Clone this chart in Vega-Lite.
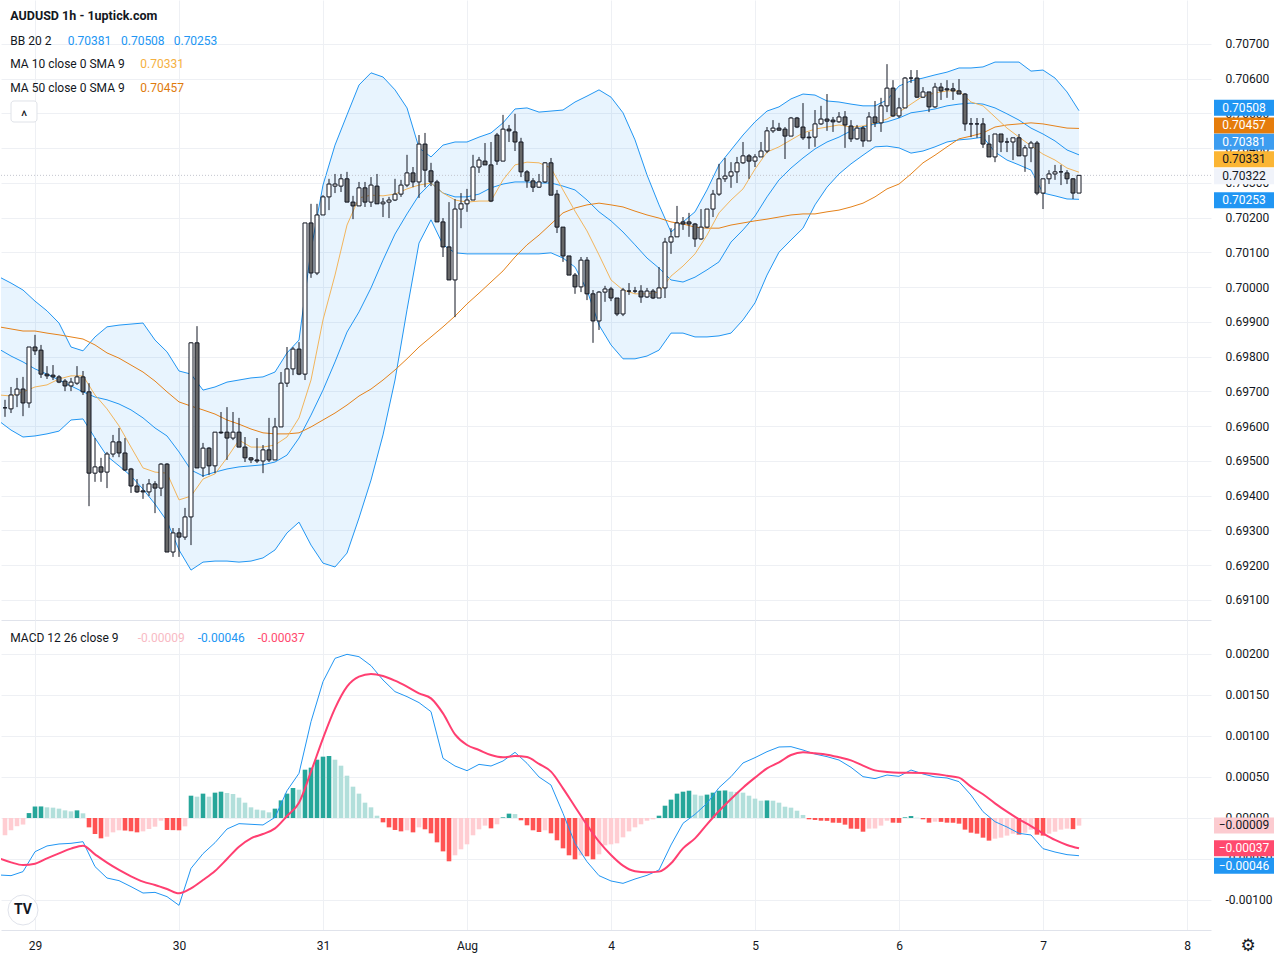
{
  "$schema": "https://vega.github.io/schema/vega-lite/v6.json",
  "padding": 0,
  "background": "#ffffff",
  "spacing": 0,
  "config": {
    "view": {"stroke": null},
    "font": "Roboto",
    "axis": {"labelFont": "Roboto", "labelFontSize": 12, "labelColor": "#131722", "gridColor": "#eef0f4", "ticks": false, "domain": false, "title": null, "labelOverlap": false},
    "scale": {"continuousPadding": 0}
  },
  "datasets": {
    "candles": [
      {"t":-5,"o":0.69653,"h":0.69676,"l":0.69627,"c":0.69653},
      {"t":-4,"o":0.69650,"h":0.69713,"l":0.69638,"c":0.69690},
      {"t":-3,"o":0.69690,"h":0.69739,"l":0.69655,"c":0.69707},
      {"t":-2,"o":0.69707,"h":0.69742,"l":0.69629,"c":0.69667},
      {"t":-1,"o":0.69667,"h":0.69828,"l":0.69653,"c":0.69828},
      {"t":0,"o":0.69828,"h":0.69863,"l":0.69805,"c":0.69817},
      {"t":1,"o":0.69819,"h":0.69834,"l":0.69739,"c":0.69750},
      {"t":2,"o":0.69750,"h":0.69773,"l":0.69736,"c":0.69745},
      {"t":3,"o":0.69747,"h":0.69776,"l":0.69733,"c":0.69742},
      {"t":4,"o":0.69742,"h":0.69747,"l":0.69724,"c":0.69727},
      {"t":5,"o":0.69730,"h":0.69736,"l":0.69701,"c":0.69716},
      {"t":6,"o":0.69716,"h":0.69739,"l":0.69701,"c":0.69727},
      {"t":7,"o":0.69724,"h":0.69773,"l":0.69719,"c":0.69742},
      {"t":8,"o":0.69742,"h":0.69759,"l":0.69690,"c":0.69699},
      {"t":9,"o":0.69699,"h":0.69724,"l":0.69370,"c":0.69465},
      {"t":10,"o":0.69465,"h":0.69566,"l":0.69440,"c":0.69483},
      {"t":11,"o":0.69483,"h":0.69509,"l":0.69440,"c":0.69468},
      {"t":12,"o":0.69468,"h":0.69526,"l":0.69422,"c":0.69520},
      {"t":13,"o":0.69520,"h":0.69575,"l":0.69511,"c":0.69555},
      {"t":14,"o":0.69555,"h":0.69595,"l":0.69511,"c":0.69523},
      {"t":15,"o":0.69523,"h":0.69566,"l":0.69471,"c":0.69474},
      {"t":16,"o":0.69477,"h":0.69480,"l":0.69408,"c":0.69428},
      {"t":17,"o":0.69428,"h":0.69448,"l":0.69408,"c":0.69411},
      {"t":18,"o":0.69414,"h":0.69434,"l":0.69391,"c":0.69411},
      {"t":19,"o":0.69411,"h":0.69448,"l":0.69399,"c":0.69434},
      {"t":20,"o":0.69434,"h":0.69442,"l":0.69350,"c":0.69422},
      {"t":21,"o":0.69422,"h":0.69494,"l":0.69399,"c":0.69491},
      {"t":22,"o":0.69491,"h":0.69494,"l":0.69238,"c":0.69238},
      {"t":23,"o":0.69238,"h":0.69307,"l":0.69224,"c":0.69293},
      {"t":24,"o":0.69293,"h":0.69307,"l":0.69224,"c":0.69281},
      {"t":25,"o":0.69281,"h":0.69365,"l":0.69273,"c":0.69339},
      {"t":26,"o":0.69339,"h":0.69842,"l":0.69258,"c":0.69840},
      {"t":27,"o":0.69840,"h":0.69888,"l":0.69480,"c":0.69480},
      {"t":28,"o":0.69480,"h":0.69552,"l":0.69454,"c":0.69537},
      {"t":29,"o":0.69537,"h":0.69540,"l":0.69460,"c":0.69486},
      {"t":30,"o":0.69486,"h":0.69583,"l":0.69465,"c":0.69583},
      {"t":31,"o":0.69583,"h":0.69641,"l":0.69578,"c":0.69581},
      {"t":32,"o":0.69583,"h":0.69655,"l":0.69503,"c":0.69566},
      {"t":33,"o":0.69566,"h":0.69641,"l":0.69560,"c":0.69583},
      {"t":34,"o":0.69583,"h":0.69624,"l":0.69540,"c":0.69540},
      {"t":35,"o":0.69540,"h":0.69569,"l":0.69497,"c":0.69509},
      {"t":36,"o":0.69509,"h":0.69511,"l":0.69494,"c":0.69503},
      {"t":37,"o":0.69503,"h":0.69566,"l":0.69494,"c":0.69500},
      {"t":38,"o":0.69500,"h":0.69546,"l":0.69465,"c":0.69532},
      {"t":39,"o":0.69532,"h":0.69624,"l":0.69497,"c":0.69503},
      {"t":40,"o":0.69503,"h":0.69624,"l":0.69503,"c":0.69598},
      {"t":41,"o":0.69598,"h":0.69756,"l":0.69598,"c":0.69724},
      {"t":42,"o":0.69724,"h":0.69828,"l":0.69713,"c":0.69765},
      {"t":43,"o":0.69765,"h":0.69828,"l":0.69747,"c":0.69822},
      {"t":44,"o":0.69822,"h":0.69842,"l":0.69747,"c":0.69750},
      {"t":45,"o":0.69750,"h":0.70185,"l":0.69733,"c":0.70185},
      {"t":46,"o":0.70185,"h":0.70240,"l":0.70027,"c":0.70041},
      {"t":47,"o":0.70041,"h":0.70240,"l":0.70035,"c":0.70208},
      {"t":48,"o":0.70208,"h":0.70265,"l":0.70208,"c":0.70260},
      {"t":49,"o":0.70260,"h":0.70312,"l":0.70222,"c":0.70297},
      {"t":50,"o":0.70291,"h":0.70326,"l":0.70271,"c":0.70297},
      {"t":51,"o":0.70291,"h":0.70326,"l":0.70274,"c":0.70312},
      {"t":52,"o":0.70312,"h":0.70332,"l":0.70245,"c":0.70245},
      {"t":53,"o":0.70245,"h":0.70263,"l":0.70196,"c":0.70234},
      {"t":54,"o":0.70234,"h":0.70303,"l":0.70234,"c":0.70286},
      {"t":55,"o":0.70286,"h":0.70303,"l":0.70231,"c":0.70245},
      {"t":56,"o":0.70245,"h":0.70317,"l":0.70231,"c":0.70294},
      {"t":57,"o":0.70291,"h":0.70326,"l":0.70240,"c":0.70240},
      {"t":58,"o":0.70240,"h":0.70257,"l":0.70202,"c":0.70245},
      {"t":59,"o":0.70245,"h":0.70260,"l":0.70199,"c":0.70251},
      {"t":60,"o":0.70251,"h":0.70312,"l":0.70248,"c":0.70268},
      {"t":61,"o":0.70268,"h":0.70309,"l":0.70260,"c":0.70294},
      {"t":62,"o":0.70294,"h":0.70381,"l":0.70288,"c":0.70329},
      {"t":63,"o":0.70329,"h":0.70346,"l":0.70288,"c":0.70303},
      {"t":64,"o":0.70303,"h":0.70438,"l":0.70257,"c":0.70412},
      {"t":65,"o":0.70412,"h":0.70444,"l":0.70288,"c":0.70337},
      {"t":66,"o":0.70335,"h":0.70358,"l":0.70291,"c":0.70303},
      {"t":67,"o":0.70303,"h":0.70309,"l":0.70188,"c":0.70188},
      {"t":68,"o":0.70188,"h":0.70199,"l":0.70087,"c":0.70116},
      {"t":69,"o":0.70116,"h":0.70245,"l":0.70021,"c":0.70021},
      {"t":70,"o":0.70021,"h":0.70254,"l":0.69914,"c":0.70225},
      {"t":71,"o":0.70225,"h":0.70271,"l":0.70170,"c":0.70240},
      {"t":72,"o":0.70240,"h":0.70283,"l":0.70217,"c":0.70251},
      {"t":73,"o":0.70251,"h":0.70381,"l":0.70251,"c":0.70346},
      {"t":74,"o":0.70346,"h":0.70375,"l":0.70329,"c":0.70366},
      {"t":75,"o":0.70363,"h":0.70415,"l":0.70352,"c":0.70352},
      {"t":76,"o":0.70352,"h":0.70418,"l":0.70245,"c":0.70248},
      {"t":77,"o":0.70438,"h":0.70444,"l":0.70352,"c":0.70363},
      {"t":78,"o":0.70363,"h":0.70496,"l":0.70363,"c":0.70455},
      {"t":79,"o":0.70455,"h":0.70467,"l":0.70418,"c":0.70450},
      {"t":80,"o":0.70447,"h":0.70499,"l":0.70392,"c":0.70418},
      {"t":81,"o":0.70418,"h":0.70430,"l":0.70317,"c":0.70332},
      {"t":82,"o":0.70332,"h":0.70337,"l":0.70286,"c":0.70306},
      {"t":83,"o":0.70306,"h":0.70314,"l":0.70274,"c":0.70288},
      {"t":84,"o":0.70288,"h":0.70326,"l":0.70286,"c":0.70303},
      {"t":85,"o":0.70303,"h":0.70360,"l":0.70300,"c":0.70358},
      {"t":86,"o":0.70358,"h":0.70372,"l":0.70265,"c":0.70265},
      {"t":87,"o":0.70268,"h":0.70280,"l":0.70156,"c":0.70173},
      {"t":88,"o":0.70173,"h":0.70173,"l":0.70073,"c":0.70090},
      {"t":89,"o":0.70090,"h":0.70090,"l":0.70035,"c":0.70035},
      {"t":90,"o":0.70035,"h":0.70041,"l":0.69981,"c":0.70001},
      {"t":91,"o":0.70001,"h":0.70087,"l":0.69986,"c":0.70078},
      {"t":92,"o":0.70078,"h":0.70087,"l":0.69963,"c":0.69981},
      {"t":93,"o":0.69981,"h":0.69992,"l":0.69840,"c":0.69903},
      {"t":94,"o":0.69903,"h":0.69989,"l":0.69877,"c":0.69986},
      {"t":95,"o":0.69986,"h":0.70004,"l":0.69958,"c":0.69995},
      {"t":96,"o":0.69995,"h":0.70001,"l":0.69960,"c":0.69969},
      {"t":97,"o":0.69969,"h":0.69969,"l":0.69917,"c":0.69923},
      {"t":98,"o":0.69923,"h":0.69998,"l":0.69917,"c":0.69992},
      {"t":99,"o":0.69989,"h":0.70012,"l":0.69978,"c":0.69989},
      {"t":100,"o":0.69989,"h":0.70001,"l":0.69983,"c":0.69989},
      {"t":101,"o":0.69989,"h":0.70006,"l":0.69955,"c":0.69972},
      {"t":102,"o":0.69972,"h":0.69998,"l":0.69969,"c":0.69989},
      {"t":103,"o":0.69989,"h":0.69995,"l":0.69966,"c":0.69969},
      {"t":104,"o":0.69969,"h":0.70058,"l":0.69969,"c":0.69998},
      {"t":105,"o":0.69998,"h":0.70142,"l":0.69969,"c":0.70130},
      {"t":106,"o":0.70130,"h":0.70170,"l":0.70096,"c":0.70145},
      {"t":107,"o":0.70145,"h":0.70234,"l":0.70145,"c":0.70185},
      {"t":108,"o":0.70188,"h":0.70202,"l":0.70165,"c":0.70182},
      {"t":109,"o":0.70188,"h":0.70214,"l":0.70145,"c":0.70182},
      {"t":110,"o":0.70182,"h":0.70185,"l":0.70116,"c":0.70139},
      {"t":111,"o":0.70139,"h":0.70225,"l":0.70136,"c":0.70173},
      {"t":112,"o":0.70173,"h":0.70225,"l":0.70170,"c":0.70225},
      {"t":113,"o":0.70225,"h":0.70280,"l":0.70202,"c":0.70268},
      {"t":114,"o":0.70268,"h":0.70355,"l":0.70263,"c":0.70312},
      {"t":115,"o":0.70312,"h":0.70372,"l":0.70303,"c":0.70320},
      {"t":116,"o":0.70320,"h":0.70360,"l":0.70286,"c":0.70332},
      {"t":117,"o":0.70332,"h":0.70375,"l":0.70300,"c":0.70358},
      {"t":118,"o":0.70358,"h":0.70418,"l":0.70355,"c":0.70378},
      {"t":119,"o":0.70378,"h":0.70383,"l":0.70312,"c":0.70363},
      {"t":120,"o":0.70363,"h":0.70383,"l":0.70346,"c":0.70375},
      {"t":121,"o":0.70375,"h":0.70418,"l":0.70375,"c":0.70392},
      {"t":122,"o":0.70392,"h":0.70461,"l":0.70386,"c":0.70450},
      {"t":123,"o":0.70450,"h":0.70481,"l":0.70444,"c":0.70458},
      {"t":124,"o":0.70458,"h":0.70473,"l":0.70450,"c":0.70452},
      {"t":125,"o":0.70455,"h":0.70461,"l":0.70369,"c":0.70435},
      {"t":126,"o":0.70435,"h":0.70490,"l":0.70435,"c":0.70487},
      {"t":127,"o":0.70487,"h":0.70490,"l":0.70458,"c":0.70461},
      {"t":128,"o":0.70461,"h":0.70530,"l":0.70424,"c":0.70430},
      {"t":129,"o":0.70432,"h":0.70447,"l":0.70398,"c":0.70430},
      {"t":130,"o":0.70432,"h":0.70510,"l":0.70404,"c":0.70470},
      {"t":131,"o":0.70470,"h":0.70522,"l":0.70467,"c":0.70484},
      {"t":132,"o":0.70484,"h":0.70556,"l":0.70450,"c":0.70478},
      {"t":133,"o":0.70481,"h":0.70490,"l":0.70447,"c":0.70476},
      {"t":134,"o":0.70476,"h":0.70504,"l":0.70473,"c":0.70490},
      {"t":135,"o":0.70490,"h":0.70507,"l":0.70401,"c":0.70467},
      {"t":136,"o":0.70464,"h":0.70481,"l":0.70418,"c":0.70427},
      {"t":137,"o":0.70427,"h":0.70467,"l":0.70424,"c":0.70458},
      {"t":138,"o":0.70458,"h":0.70464,"l":0.70404,"c":0.70421},
      {"t":139,"o":0.70421,"h":0.70504,"l":0.70421,"c":0.70490},
      {"t":140,"o":0.70490,"h":0.70536,"l":0.70461,"c":0.70473},
      {"t":141,"o":0.70473,"h":0.70545,"l":0.70447,"c":0.70522},
      {"t":142,"o":0.70522,"h":0.70642,"l":0.70504,"c":0.70573},
      {"t":143,"o":0.70573,"h":0.70596,"l":0.70490,"c":0.70493},
      {"t":144,"o":0.70493,"h":0.70545,"l":0.70487,"c":0.70516},
      {"t":145,"o":0.70516,"h":0.70605,"l":0.70516,"c":0.70602},
      {"t":146,"o":0.70602,"h":0.70625,"l":0.70588,"c":0.70602},
      {"t":147,"o":0.70602,"h":0.70625,"l":0.70545,"c":0.70547},
      {"t":148,"o":0.70547,"h":0.70576,"l":0.70545,"c":0.70562},
      {"t":149,"o":0.70562,"h":0.70562,"l":0.70504,"c":0.70519},
      {"t":150,"o":0.70519,"h":0.70588,"l":0.70516,"c":0.70576},
      {"t":151,"o":0.70576,"h":0.70588,"l":0.70539,"c":0.70565},
      {"t":152,"o":0.70571,"h":0.70596,"l":0.70545,"c":0.70568},
      {"t":153,"o":0.70571,"h":0.70588,"l":0.70539,"c":0.70565},
      {"t":154,"o":0.70565,"h":0.70599,"l":0.70556,"c":0.70556},
      {"t":155,"o":0.70556,"h":0.70559,"l":0.70450,"c":0.70470},
      {"t":156,"o":0.70470,"h":0.70487,"l":0.70432,"c":0.70470},
      {"t":157,"o":0.70470,"h":0.70487,"l":0.70430,"c":0.70470},
      {"t":158,"o":0.70470,"h":0.70487,"l":0.70401,"c":0.70412},
      {"t":159,"o":0.70412,"h":0.70438,"l":0.70375,"c":0.70375},
      {"t":160,"o":0.70375,"h":0.70441,"l":0.70360,"c":0.70441},
      {"t":161,"o":0.70441,"h":0.70441,"l":0.70389,"c":0.70418},
      {"t":162,"o":0.70418,"h":0.70430,"l":0.70389,"c":0.70418},
      {"t":163,"o":0.70418,"h":0.70430,"l":0.70366,"c":0.70430},
      {"t":164,"o":0.70430,"h":0.70441,"l":0.70378,"c":0.70378},
      {"t":165,"o":0.70378,"h":0.70409,"l":0.70332,"c":0.70401},
      {"t":166,"o":0.70401,"h":0.70421,"l":0.70360,"c":0.70415},
      {"t":167,"o":0.70415,"h":0.70421,"l":0.70265,"c":0.70271},
      {"t":168,"o":0.70271,"h":0.70312,"l":0.70225,"c":0.70312},
      {"t":169,"o":0.70312,"h":0.70337,"l":0.70297,"c":0.70326},
      {"t":170,"o":0.70326,"h":0.70352,"l":0.70309,"c":0.70332},
      {"t":171,"o":0.70332,"h":0.70352,"l":0.70294,"c":0.70332},
      {"t":172,"o":0.70329,"h":0.70337,"l":0.70297,"c":0.70312},
      {"t":173,"o":0.70312,"h":0.70314,"l":0.70254,"c":0.70271},
      {"t":174,"o":0.70271,"h":0.70317,"l":0.70271,"c":0.70322}
    ],
    "bands": [
      {"t":-6,"up":0.70030,"mid":0.69822,"lo":0.69615,"ma10":0.69690,"ma50":0.69886},
      {"t":-4,"up":0.70012,"mid":0.69802,"lo":0.69589,"ma10":0.69687,"ma50":0.69880},
      {"t":-2,"up":0.69992,"mid":0.69785,"lo":0.69569,"ma10":0.69699,"ma50":0.69874},
      {"t":0,"up":0.69960,"mid":0.69765,"lo":0.69572,"ma10":0.69713,"ma50":0.69874},
      {"t":2,"up":0.69932,"mid":0.69750,"lo":0.69578,"ma10":0.69719,"ma50":0.69868},
      {"t":4,"up":0.69897,"mid":0.69733,"lo":0.69586,"ma10":0.69736,"ma50":0.69863},
      {"t":6,"up":0.69828,"mid":0.69716,"lo":0.69618,"ma10":0.69745,"ma50":0.69857},
      {"t":8,"up":0.69817,"mid":0.69699,"lo":0.69621,"ma10":0.69745,"ma50":0.69851},
      {"t":10,"up":0.69857,"mid":0.69684,"lo":0.69566,"ma10":0.69690,"ma50":0.69834},
      {"t":12,"up":0.69886,"mid":0.69676,"lo":0.69514,"ma10":0.69650,"ma50":0.69811},
      {"t":14,"up":0.69891,"mid":0.69664,"lo":0.69486,"ma10":0.69601,"ma50":0.69796},
      {"t":16,"up":0.69894,"mid":0.69647,"lo":0.69457,"ma10":0.69540,"ma50":0.69776},
      {"t":18,"up":0.69897,"mid":0.69624,"lo":0.69419,"ma10":0.69480,"ma50":0.69756},
      {"t":20,"up":0.69848,"mid":0.69595,"lo":0.69376,"ma10":0.69468,"ma50":0.69730},
      {"t":22,"up":0.69814,"mid":0.69572,"lo":0.69327,"ma10":0.69465,"ma50":0.69699},
      {"t":24,"up":0.69759,"mid":0.69526,"lo":0.69244,"ma10":0.69388,"ma50":0.69670},
      {"t":26,"up":0.69750,"mid":0.69474,"lo":0.69186,"ma10":0.69399,"ma50":0.69658},
      {"t":28,"up":0.69704,"mid":0.69457,"lo":0.69209,"ma10":0.69448,"ma50":0.69647},
      {"t":30,"up":0.69713,"mid":0.69468,"lo":0.69212,"ma10":0.69463,"ma50":0.69635},
      {"t":32,"up":0.69727,"mid":0.69477,"lo":0.69212,"ma10":0.69509,"ma50":0.69618},
      {"t":34,"up":0.69733,"mid":0.69483,"lo":0.69209,"ma10":0.69560,"ma50":0.69606},
      {"t":36,"up":0.69739,"mid":0.69486,"lo":0.69212,"ma10":0.69540,"ma50":0.69592},
      {"t":38,"up":0.69742,"mid":0.69489,"lo":0.69221,"ma10":0.69540,"ma50":0.69581},
      {"t":40,"up":0.69756,"mid":0.69497,"lo":0.69244,"ma10":0.69546,"ma50":0.69578},
      {"t":42,"up":0.69811,"mid":0.69517,"lo":0.69293,"ma10":0.69569,"ma50":0.69578},
      {"t":44,"up":0.69848,"mid":0.69566,"lo":0.69324,"ma10":0.69624,"ma50":0.69581},
      {"t":46,"up":0.70107,"mid":0.69632,"lo":0.69258,"ma10":0.69733,"ma50":0.69598},
      {"t":48,"up":0.70294,"mid":0.69704,"lo":0.69206,"ma10":0.69906,"ma50":0.69618},
      {"t":50,"up":0.70409,"mid":0.69785,"lo":0.69195,"ma10":0.70035,"ma50":0.69638},
      {"t":52,"up":0.70496,"mid":0.69871,"lo":0.69235,"ma10":0.70179,"ma50":0.69661},
      {"t":54,"up":0.70582,"mid":0.69929,"lo":0.69336,"ma10":0.70257,"ma50":0.69687},
      {"t":56,"up":0.70617,"mid":0.69998,"lo":0.69445,"ma10":0.70265,"ma50":0.69707},
      {"t":58,"up":0.70605,"mid":0.70078,"lo":0.69575,"ma10":0.70263,"ma50":0.69733},
      {"t":60,"up":0.70568,"mid":0.70153,"lo":0.69733,"ma10":0.70268,"ma50":0.69762},
      {"t":62,"up":0.70516,"mid":0.70211,"lo":0.69935,"ma10":0.70283,"ma50":0.69794},
      {"t":64,"up":0.70401,"mid":0.70265,"lo":0.70127,"ma10":0.70294,"ma50":0.69828},
      {"t":66,"up":0.70375,"mid":0.70300,"lo":0.70194,"ma10":0.70300,"ma50":0.69857},
      {"t":68,"up":0.70409,"mid":0.70271,"lo":0.70122,"ma10":0.70271,"ma50":0.69886},
      {"t":70,"up":0.70418,"mid":0.70260,"lo":0.70099,"ma10":0.70251,"ma50":0.69917},
      {"t":72,"up":0.70418,"mid":0.70260,"lo":0.70096,"ma10":0.70245,"ma50":0.69952},
      {"t":74,"up":0.70432,"mid":0.70268,"lo":0.70096,"ma10":0.70248,"ma50":0.69983},
      {"t":76,"up":0.70444,"mid":0.70286,"lo":0.70096,"ma10":0.70248,"ma50":0.70015},
      {"t":78,"up":0.70473,"mid":0.70297,"lo":0.70096,"ma10":0.70309,"ma50":0.70047},
      {"t":80,"up":0.70513,"mid":0.70303,"lo":0.70096,"ma10":0.70352,"ma50":0.70087},
      {"t":82,"up":0.70516,"mid":0.70303,"lo":0.70096,"ma10":0.70360,"ma50":0.70122},
      {"t":84,"up":0.70504,"mid":0.70300,"lo":0.70096,"ma10":0.70358,"ma50":0.70150},
      {"t":86,"up":0.70507,"mid":0.70300,"lo":0.70099,"ma10":0.70343,"ma50":0.70182},
      {"t":88,"up":0.70510,"mid":0.70291,"lo":0.70084,"ma10":0.70280,"ma50":0.70214},
      {"t":90,"up":0.70533,"mid":0.70280,"lo":0.70058,"ma10":0.70219,"ma50":0.70228},
      {"t":92,"up":0.70550,"mid":0.70251,"lo":0.69992,"ma10":0.70162,"ma50":0.70237},
      {"t":94,"up":0.70568,"mid":0.70217,"lo":0.69891,"ma10":0.70093,"ma50":0.70242},
      {"t":96,"up":0.70547,"mid":0.70191,"lo":0.69834,"ma10":0.70021,"ma50":0.70237},
      {"t":98,"up":0.70502,"mid":0.70159,"lo":0.69794,"ma10":0.69992,"ma50":0.70231},
      {"t":100,"up":0.70424,"mid":0.70122,"lo":0.69794,"ma10":0.69981,"ma50":0.70219},
      {"t":102,"up":0.70323,"mid":0.70084,"lo":0.69802,"ma10":0.69981,"ma50":0.70208},
      {"t":104,"up":0.70237,"mid":0.70055,"lo":0.69819,"ma10":0.69986,"ma50":0.70199},
      {"t":106,"up":0.70159,"mid":0.70021,"lo":0.69868,"ma10":0.70032,"ma50":0.70188},
      {"t":108,"up":0.70188,"mid":0.70015,"lo":0.69868,"ma10":0.70061,"ma50":0.70182},
      {"t":110,"up":0.70217,"mid":0.70029,"lo":0.69857,"ma10":0.70096,"ma50":0.70173},
      {"t":112,"up":0.70280,"mid":0.70050,"lo":0.69857,"ma10":0.70150,"ma50":0.70170},
      {"t":114,"up":0.70352,"mid":0.70073,"lo":0.69860,"ma10":0.70214,"ma50":0.70170},
      {"t":116,"up":0.70395,"mid":0.70130,"lo":0.69868,"ma10":0.70251,"ma50":0.70179},
      {"t":118,"up":0.70438,"mid":0.70165,"lo":0.69906,"ma10":0.70283,"ma50":0.70185},
      {"t":120,"up":0.70476,"mid":0.70205,"lo":0.69955,"ma10":0.70340,"ma50":0.70191},
      {"t":122,"up":0.70507,"mid":0.70260,"lo":0.70035,"ma10":0.70389,"ma50":0.70196},
      {"t":124,"up":0.70519,"mid":0.70309,"lo":0.70101,"ma10":0.70404,"ma50":0.70202},
      {"t":126,"up":0.70542,"mid":0.70343,"lo":0.70136,"ma10":0.70424,"ma50":0.70208},
      {"t":128,"up":0.70556,"mid":0.70372,"lo":0.70170,"ma10":0.70444,"ma50":0.70211},
      {"t":130,"up":0.70553,"mid":0.70398,"lo":0.70237,"ma10":0.70455,"ma50":0.70211},
      {"t":132,"up":0.70536,"mid":0.70418,"lo":0.70288,"ma10":0.70461,"ma50":0.70217},
      {"t":134,"up":0.70533,"mid":0.70432,"lo":0.70326,"ma10":0.70467,"ma50":0.70222},
      {"t":136,"up":0.70527,"mid":0.70450,"lo":0.70355,"ma10":0.70461,"ma50":0.70231},
      {"t":138,"up":0.70522,"mid":0.70461,"lo":0.70380,"ma10":0.70464,"ma50":0.70242},
      {"t":140,"up":0.70522,"mid":0.70470,"lo":0.70404,"ma10":0.70473,"ma50":0.70260},
      {"t":142,"up":0.70539,"mid":0.70476,"lo":0.70406,"ma10":0.70484,"ma50":0.70283},
      {"t":144,"up":0.70579,"mid":0.70487,"lo":0.70401,"ma10":0.70504,"ma50":0.70297},
      {"t":146,"up":0.70594,"mid":0.70502,"lo":0.70386,"ma10":0.70527,"ma50":0.70326},
      {"t":148,"up":0.70602,"mid":0.70507,"lo":0.70392,"ma10":0.70550,"ma50":0.70358},
      {"t":150,"up":0.70611,"mid":0.70513,"lo":0.70404,"ma10":0.70559,"ma50":0.70380},
      {"t":152,"up":0.70619,"mid":0.70522,"lo":0.70418,"ma10":0.70565,"ma50":0.70404},
      {"t":154,"up":0.70631,"mid":0.70527,"lo":0.70424,"ma10":0.70565,"ma50":0.70427},
      {"t":156,"up":0.70631,"mid":0.70530,"lo":0.70427,"ma10":0.70533,"ma50":0.70435},
      {"t":158,"up":0.70634,"mid":0.70527,"lo":0.70432,"ma10":0.70522,"ma50":0.70444},
      {"t":160,"up":0.70648,"mid":0.70516,"lo":0.70389,"ma10":0.70490,"ma50":0.70461},
      {"t":162,"up":0.70648,"mid":0.70499,"lo":0.70366,"ma10":0.70458,"ma50":0.70467},
      {"t":164,"up":0.70648,"mid":0.70481,"lo":0.70352,"ma10":0.70432,"ma50":0.70470},
      {"t":166,"up":0.70622,"mid":0.70458,"lo":0.70337,"ma10":0.70407,"ma50":0.70473},
      {"t":168,"up":0.70625,"mid":0.70441,"lo":0.70271,"ma10":0.70383,"ma50":0.70470},
      {"t":170,"up":0.70602,"mid":0.70421,"lo":0.70263,"ma10":0.70366,"ma50":0.70464},
      {"t":172,"up":0.70562,"mid":0.70395,"lo":0.70254,"ma10":0.70343,"ma50":0.70458},
      {"t":174,"up":0.70508,"mid":0.70381,"lo":0.70253,"ma10":0.70331,"ma50":0.70457}
    ],
    "macd": [
      {"t":-6,"m":-0.000695,"s":-0.000492},{"t":-4,"m":-0.000703,"s":-0.000541},{"t":-2,"m":-0.000654,"s":-0.000573},
      {"t":0,"m":-0.000411,"s":-0.000557},{"t":2,"m":-0.000341,"s":-0.000492},{"t":4,"m":-0.000317,"s":-0.000431},
      {"t":6,"m":-0.000309,"s":-0.000374},{"t":8,"m":-0.000289,"s":-0.000337},{"t":10,"m":-0.000593,"s":-0.000443},
      {"t":12,"m":-0.000732,"s":-0.000545},{"t":14,"m":-0.000764,"s":-0.000634},{"t":16,"m":-0.000837,"s":-0.000711},
      {"t":18,"m":-0.000915,"s":-0.000776},{"t":20,"m":-0.000907,"s":-0.000817},{"t":22,"m":-0.000959,"s":-0.000866},
      {"t":24,"m":-0.001065,"s":-0.000919},{"t":26,"m":-0.000614,"s":-0.000858},{"t":28,"m":-0.000435,"s":-0.000756},
      {"t":30,"m":-0.000301,"s":-0.000646},{"t":32,"m":-0.000134,"s":-0.000500},{"t":34,"m":-0.000069,"s":-0.000350},
      {"t":36,"m":-0.000077,"s":-0.000248},{"t":38,"m":-0.000085,"s":-0.000195},{"t":40,"m":0.000008,"s":-0.000126},
      {"t":42,"m":0.000333,"s":0.000024},{"t":44,"m":0.000545,"s":0.000187},{"t":46,"m":0.001175,"s":0.000565},
      {"t":48,"m":0.001663,"s":0.000972},{"t":50,"m":0.001947,"s":0.001337},{"t":52,"m":0.001996,"s":0.001602},
      {"t":54,"m":0.001967,"s":0.001724},{"t":56,"m":0.001858,"s":0.001756},{"t":58,"m":0.001683,"s":0.001732},
      {"t":60,"m":0.001541,"s":0.001675},{"t":62,"m":0.001480,"s":0.001602},{"t":64,"m":0.001407,"s":0.001520},
      {"t":66,"m":0.001297,"s":0.001459},{"t":68,"m":0.000728,"s":0.001276},{"t":70,"m":0.000634,"s":0.001020},
      {"t":72,"m":0.000577,"s":0.000890},{"t":74,"m":0.000654,"s":0.000829},{"t":76,"m":0.000634,"s":0.000768},
      {"t":78,"m":0.000695,"s":0.000740},{"t":80,"m":0.000801,"s":0.000756},{"t":82,"m":0.000667,"s":0.000744},
      {"t":84,"m":0.000500,"s":0.000659},{"t":86,"m":0.000402,"s":0.000565},{"t":88,"m":0.000057,"s":0.000362},
      {"t":90,"m":-0.000309,"s":0.000138},{"t":92,"m":-0.000533,"s":-0.000085},{"t":94,"m":-0.000703,"s":-0.000289},
      {"t":96,"m":-0.000768,"s":-0.000451},{"t":98,"m":-0.000797,"s":-0.000581},{"t":100,"m":-0.000744,"s":-0.000650},
      {"t":102,"m":-0.000699,"s":-0.000663},{"t":104,"m":-0.000634,"s":-0.000654},{"t":106,"m":-0.000329,"s":-0.000553},
      {"t":108,"m":-0.000065,"s":-0.000370},{"t":110,"m":0.000045,"s":-0.000248},{"t":112,"m":0.000179,"s":-0.000077},
      {"t":114,"m":0.000370,"s":0.000085},{"t":116,"m":0.000504,"s":0.000232},{"t":118,"m":0.000671,"s":0.000370},
      {"t":120,"m":0.000736,"s":0.000492},{"t":122,"m":0.000809,"s":0.000606},{"t":124,"m":0.000866,"s":0.000679},
      {"t":126,"m":0.000870,"s":0.000768},{"t":128,"m":0.000829,"s":0.000801},{"t":130,"m":0.000780,"s":0.000789},
      {"t":132,"m":0.000748,"s":0.000772},{"t":134,"m":0.000707,"s":0.000740},{"t":136,"m":0.000618,"s":0.000703},
      {"t":138,"m":0.000504,"s":0.000638},{"t":140,"m":0.000480,"s":0.000581},{"t":142,"m":0.000524,"s":0.000561},
      {"t":144,"m":0.000508,"s":0.000553},{"t":146,"m":0.000585,"s":0.000553},{"t":148,"m":0.000537,"s":0.000549},
      {"t":150,"m":0.000500,"s":0.000537},{"t":152,"m":0.000488,"s":0.000516},{"t":154,"m":0.000443,"s":0.000492},
      {"t":156,"m":0.000280,"s":0.000382},{"t":158,"m":0.000077,"s":0.000289},{"t":160,"m":-0.000045,"s":0.000179},
      {"t":162,"m":-0.000110,"s":0.000077},{"t":164,"m":-0.000187,"s":-0.000016},{"t":166,"m":-0.000207,"s":-0.000098},
      {"t":168,"m":-0.000374,"s":-0.000187},{"t":170,"m":-0.000415,"s":-0.000268},{"t":172,"m":-0.000447,"s":-0.000329},
      {"t":174,"m":-0.000460,"s":-0.000370}
    ],
    "hist": [
      {"t":-5,"h":-0.00021,"s":"lr"},{"t":-4,"h":-0.00015,"s":"lr"},{"t":-3,"h":-0.00010,"s":"lr"},{"t":-2,"h":-0.00008,"s":"lr"},
      {"t":-1,"h":0.00006,"s":"g"},{"t":0,"h":0.00014,"s":"g"},{"t":1,"h":0.000141,"s":"g"},{"t":2,"h":0.00013,"s":"lg"},
      {"t":3,"h":0.000126,"s":"lg"},{"t":4,"h":0.000114,"s":"lg"},{"t":5,"h":0.000093,"s":"lg"},{"t":6,"h":0.000081,"s":"lg"},
      {"t":7,"h":0.000093,"s":"g"},{"t":8,"h":0.000057,"s":"lg"},{"t":9,"h":-0.000114,"s":"r"},{"t":10,"h":-0.000195,"s":"r"},
      {"t":11,"h":-0.000248,"s":"r"},{"t":12,"h":-0.000228,"s":"lr"},{"t":13,"h":-0.000175,"s":"lr"},{"t":14,"h":-0.00015,"s":"lr"},
      {"t":15,"h":-0.000153,"s":"r"},{"t":16,"h":-0.000163,"s":"r"},{"t":17,"h":-0.000175,"s":"r"},{"t":18,"h":-0.000163,"s":"lr"},
      {"t":19,"h":-0.000134,"s":"lr"},{"t":20,"h":-0.000106,"s":"lr"},{"t":21,"h":-0.000033,"s":"lr"},{"t":22,"h":-0.000146,"s":"r"},
      {"t":23,"h":-0.000148,"s":"r"},{"t":24,"h":-0.00015,"s":"r"},{"t":25,"h":-0.000102,"s":"lr"},{"t":26,"h":0.000272,"s":"g"},
      {"t":27,"h":0.00026,"s":"lg"},{"t":28,"h":0.000297,"s":"g"},{"t":29,"h":0.00026,"s":"lg"},{"t":30,"h":0.000309,"s":"g"},
      {"t":31,"h":0.000321,"s":"g"},{"t":32,"h":0.000305,"s":"lg"},{"t":33,"h":0.000293,"s":"lg"},{"t":34,"h":0.000248,"s":"lg"},
      {"t":35,"h":0.000187,"s":"lg"},{"t":36,"h":0.00013,"s":"lg"},{"t":37,"h":0.000102,"s":"lg"},{"t":38,"h":0.000093,"s":"lg"},
      {"t":39,"h":0.000069,"s":"lg"},{"t":40,"h":0.000114,"s":"g"},{"t":41,"h":0.000215,"s":"g"},{"t":42,"h":0.000297,"s":"g"},
      {"t":43,"h":0.000366,"s":"g"},{"t":44,"h":0.000346,"s":"lg"},{"t":45,"h":0.000589,"s":"g"},{"t":46,"h":0.000614,"s":"g"},
      {"t":47,"h":0.000711,"s":"g"},{"t":48,"h":0.000748,"s":"g"},{"t":49,"h":0.000756,"s":"g"},{"t":50,"h":0.000711,"s":"lg"},
      {"t":51,"h":0.000638,"s":"lg"},{"t":52,"h":0.000516,"s":"lg"},{"t":53,"h":0.000382,"s":"lg"},{"t":54,"h":0.000297,"s":"lg"},
      {"t":55,"h":0.000187,"s":"lg"},{"t":56,"h":0.00013,"s":"lg"},{"t":57,"h":0.000028,"s":"lg"},{"t":58,"h":-0.000053,"s":"r"},
      {"t":59,"h":-0.000114,"s":"r"},{"t":60,"h":-0.000146,"s":"r"},{"t":61,"h":-0.000163,"s":"r"},{"t":62,"h":-0.00015,"s":"lr"},
      {"t":63,"h":-0.000175,"s":"r"},{"t":64,"h":-0.000114,"s":"lr"},{"t":65,"h":-0.000138,"s":"r"},{"t":66,"h":-0.000187,"s":"r"},
      {"t":67,"h":-0.000297,"s":"r"},{"t":68,"h":-0.000407,"s":"r"},{"t":69,"h":-0.000528,"s":"r"},{"t":70,"h":-0.000455,"s":"lr"},
      {"t":71,"h":-0.000382,"s":"lr"},{"t":72,"h":-0.000321,"s":"lr"},{"t":73,"h":-0.000211,"s":"lr"},{"t":74,"h":-0.000138,"s":"lr"},
      {"t":75,"h":-0.000093,"s":"lr"},{"t":76,"h":-0.000126,"s":"r"},{"t":77,"h":-0.000077,"s":"lr"},{"t":78,"h":0.000008,"s":"g"},
      {"t":79,"h":0.000053,"s":"g"},{"t":80,"h":0.000048,"s":"lg"},{"t":81,"h":-0.000028,"s":"r"},{"t":82,"h":-0.000089,"s":"r"},
      {"t":83,"h":-0.00015,"s":"r"},{"t":84,"h":-0.000171,"s":"r"},{"t":85,"h":-0.00015,"s":"lr"},{"t":86,"h":-0.000187,"s":"r"},
      {"t":87,"h":-0.000272,"s":"r"},{"t":88,"h":-0.00037,"s":"r"},{"t":89,"h":-0.000455,"s":"r"},{"t":90,"h":-0.000504,"s":"r"},
      {"t":91,"h":-0.000455,"s":"lr"},{"t":92,"h":-0.000467,"s":"r"},{"t":93,"h":-0.000504,"s":"r"},{"t":94,"h":-0.000443,"s":"lr"},
      {"t":95,"h":-0.000333,"s":"lr"},{"t":96,"h":-0.000321,"s":"lr"},{"t":97,"h":-0.000309,"s":"lr"},{"t":98,"h":-0.000236,"s":"lr"},
      {"t":99,"h":-0.000163,"s":"lr"},{"t":100,"h":-0.000114,"s":"lr"},{"t":101,"h":-0.000077,"s":"lr"},{"t":102,"h":-0.000033,"s":"lr"},
      {"t":103,"h":-0.000016,"s":"lr"},{"t":104,"h":0.000028,"s":"g"},{"t":105,"h":0.00015,"s":"g"},{"t":106,"h":0.000224,"s":"g"},
      {"t":107,"h":0.000297,"s":"g"},{"t":108,"h":0.000321,"s":"g"},{"t":109,"h":0.000333,"s":"g"},{"t":110,"h":0.000285,"s":"lg"},
      {"t":111,"h":0.000272,"s":"lg"},{"t":112,"h":0.000285,"s":"g"},{"t":113,"h":0.000309,"s":"g"},{"t":114,"h":0.000333,"s":"g"},
      {"t":115,"h":0.000336,"s":"g"},{"t":116,"h":0.000321,"s":"lg"},{"t":117,"h":0.000318,"s":"lg"},{"t":118,"h":0.000309,"s":"lg"},
      {"t":119,"h":0.000272,"s":"lg"},{"t":120,"h":0.000236,"s":"lg"},{"t":121,"h":0.000211,"s":"lg"},{"t":122,"h":0.000214,"s":"g"},
      {"t":123,"h":0.000211,"s":"lg"},{"t":124,"h":0.000187,"s":"lg"},{"t":125,"h":0.000138,"s":"lg"},{"t":126,"h":0.000126,"s":"lg"},
      {"t":127,"h":0.000089,"s":"lg"},{"t":128,"h":0.000037,"s":"lg"},{"t":129,"h":-0.000016,"s":"r"},{"t":130,"h":-0.000024,"s":"r"},
      {"t":131,"h":-0.000033,"s":"r"},{"t":132,"h":-0.000035,"s":"r"},{"t":133,"h":-0.000057,"s":"r"},{"t":134,"h":-0.000059,"s":"r"},
      {"t":135,"h":-0.000081,"s":"r"},{"t":136,"h":-0.00013,"s":"r"},{"t":137,"h":-0.000132,"s":"r"},{"t":138,"h":-0.000167,"s":"r"},
      {"t":139,"h":-0.00013,"s":"lr"},{"t":140,"h":-0.000128,"s":"lr"},{"t":141,"h":-0.000093,"s":"lr"},{"t":142,"h":-0.000033,"s":"lr"},
      {"t":143,"h":-0.000057,"s":"r"},{"t":144,"h":-0.000059,"s":"r"},{"t":145,"h":0.000008,"s":"g"},{"t":146,"h":0.000024,"s":"g"},
      {"t":147,"h":0.000003,"s":"lg"},{"t":148,"h":-0.000016,"s":"r"},{"t":149,"h":-0.000057,"s":"r"},{"t":150,"h":-0.000045,"s":"lr"},
      {"t":151,"h":-0.000047,"s":"r"},{"t":152,"h":-0.000057,"s":"r"},{"t":153,"h":-0.000058,"s":"r"},{"t":154,"h":-0.000069,"s":"r"},
      {"t":155,"h":-0.000142,"s":"r"},{"t":156,"h":-0.000179,"s":"r"},{"t":157,"h":-0.000191,"s":"r"},{"t":158,"h":-0.00024,"s":"r"},
      {"t":159,"h":-0.000276,"s":"r"},{"t":160,"h":-0.000252,"s":"lr"},{"t":161,"h":-0.00024,"s":"lr"},{"t":162,"h":-0.000215,"s":"lr"},
      {"t":163,"h":-0.000191,"s":"lr"},{"t":164,"h":-0.000203,"s":"r"},{"t":165,"h":-0.000179,"s":"lr"},{"t":166,"h":-0.000142,"s":"lr"},
      {"t":167,"h":-0.000203,"s":"r"},{"t":168,"h":-0.000215,"s":"r"},{"t":169,"h":-0.000191,"s":"lr"},{"t":170,"h":-0.000167,"s":"lr"},
      {"t":171,"h":-0.000142,"s":"lr"},{"t":172,"h":-0.00013,"s":"lr"},{"t":173,"h":-0.000136,"s":"r"},{"t":174,"h":-0.000093,"s":"lr"}
    ],
    "tags": [
      {"name":"up","v":0.70508},{"name":"ma50","v":0.70457},{"name":"mid","v":0.70381},
      {"name":"ma10","v":0.70331},{"name":"last","v":0.70322},{"name":"lo","v":0.70253}
    ],
    "mtags": [
      {"name":"hist","v":-0.00009},{"name":"sig","v":-0.00037},{"name":"macd","v":-0.00046}
    ]
  },
  "resolve": {"scale": {"x": "independent", "y": "independent", "color": "independent", "fill": "independent"}},
  "vconcat": [
    {
      "width": 1210,
      "height": 620,
      "data": {"values": [{}]},
      "layer": [
        {
          "data": {"name": "bands"},
          "mark": {"type": "area", "color": "#2196f3", "opacity": 0.1, "clip": true},
          "encoding": {
            "x": {"field": "t", "type": "quantitative", "title": null,
                  "scale": {"domain": [-5.6667, 196], "nice": false, "zero": false, "padding": 0},
                  "axis": {"orient": "bottom", "values": [0,24,48,72,96,120,144,168,192], "tickCount": 20, "labels": false, "grid": true, "domain": true, "domainColor": "#e0e3eb"}},
            "y": {"field": "up", "type": "quantitative", "title": null,
                  "scale": {"domain": [0.690424, 0.708266], "nice": false, "zero": false, "padding": 0},
                  "axis": {"orient": "right", "values": [0.691,0.692,0.693,0.694,0.695,0.696,0.697,0.698,0.699,0.700,0.701,0.702,0.703,0.704,0.705,0.706,0.707], "tickCount": 30, "format": ".5f", "labelPadding": 14, "grid": true, "labelOverlap": false, "labelBound": false}},
            "y2": {"field": "lo"}
          }
        },
        {
          "data": {"name": "bands"},
          "mark": {"type": "line", "color": "#2196f3", "strokeWidth": 1, "clip": true},
          "encoding": {"x": {"field": "t", "type": "quantitative"}, "y": {"field": "up", "type": "quantitative", "title": null}}
        },
        {
          "data": {"name": "bands"},
          "mark": {"type": "line", "color": "#2196f3", "strokeWidth": 1, "clip": true},
          "encoding": {"x": {"field": "t", "type": "quantitative"}, "y": {"field": "mid", "type": "quantitative", "title": null}}
        },
        {
          "data": {"name": "bands"},
          "mark": {"type": "line", "color": "#2196f3", "strokeWidth": 1, "clip": true},
          "encoding": {"x": {"field": "t", "type": "quantitative"}, "y": {"field": "lo", "type": "quantitative", "title": null}}
        },
        {
          "data": {"name": "bands"},
          "mark": {"type": "line", "color": "#e5821a", "strokeWidth": 1, "clip": true},
          "encoding": {"x": {"field": "t", "type": "quantitative"}, "y": {"field": "ma50", "type": "quantitative", "title": null}}
        },
        {
          "data": {"name": "bands"},
          "mark": {"type": "line", "color": "#f2b55c", "strokeWidth": 1, "clip": true},
          "encoding": {"x": {"field": "t", "type": "quantitative"}, "y": {"field": "ma10", "type": "quantitative", "title": null}}
        },
        {
          "mark": {"type": "rule", "color": "#c3c6ce", "strokeWidth": 1, "strokeDash": [1, 2]},
          "encoding": {"y": {"datum": 0.70322}}
        },
        {
          "data": {"name": "candles"},
          "mark": {"type": "rule", "color": "#131722", "strokeWidth": 1},
          "encoding": {"x": {"field": "t", "type": "quantitative"}, "y": {"field": "l", "type": "quantitative", "title": null}, "y2": {"field": "h"}}
        },
        {
          "data": {"name": "candles"},
          "mark": {"type": "bar", "size": 4, "stroke": "#131722", "strokeWidth": 1},
          "encoding": {
            "x": {"field": "t", "type": "quantitative"},
            "y": {"field": "o", "type": "quantitative", "title": null},
            "y2": {"field": "c"},
            "fill": {"condition": {"test": "datum.c > datum.o", "value": "#ffffff"}, "value": "#676767"}
          }
        },
        {
          "mark": {"type": "rect", "fill": "#ffffff", "stroke": "#dfe2e8", "strokeWidth": 1, "cornerRadius": 3},
          "encoding": {"x": {"datum": -4.0}, "x2": {"datum": 0.33}, "y": {"datum": 0.705360}, "y2": {"datum": 0.704755}}
        },
        {
          "mark": {"type": "text", "text": "^", "fontSize": 15, "align": "center", "baseline": "middle", "fill": "#131722"},
          "encoding": {"x": {"datum": -1.83}, "y": {"datum": 0.704930}}
        },
        {
          "data": {"name": "tags"},
          "transform": [{"filter": "datum.name === 'up' || datum.name === 'ma50'"}],
          "mark": {"type": "tick", "orient": "horizontal", "size": 60, "thickness": 16, "opacity": 1, "yOffset": -3},
          "encoding": {
            "x": {"datum": 201.5},
            "y": {"field": "v", "type": "quantitative", "title": null},
            "color": {"field": "name", "type": "nominal", "legend": null,
                      "scale": {"domain": ["up","ma50","mid","ma10","last","lo"], "range": ["#2196f3","#e57c0b","#3d9df0","#fbb534","#f0f3fa","#2196f3"]}}
          }
        },
        {
          "data": {"name": "tags"},
          "transform": [{"filter": "datum.name === 'mid' || datum.name === 'ma10'"}],
          "mark": {"type": "tick", "orient": "horizontal", "size": 60, "thickness": 16, "opacity": 1, "yOffset": -13},
          "encoding": {
            "x": {"datum": 201.5},
            "y": {"field": "v", "type": "quantitative", "title": null},
            "color": {"field": "name", "type": "nominal", "legend": null}
          }
        },
        {
          "data": {"name": "tags"},
          "transform": [{"filter": "datum.name === 'last' || datum.name === 'lo'"}],
          "mark": {"type": "tick", "orient": "horizontal", "size": 60, "thickness": 16, "opacity": 1, "yOffset": 1},
          "encoding": {
            "x": {"datum": 201.5},
            "y": {"field": "v", "type": "quantitative", "title": null},
            "color": {"field": "name", "type": "nominal", "legend": null}
          }
        },
        {
          "data": {"name": "tags"},
          "transform": [{"filter": "datum.name === 'up' || datum.name === 'ma50'"}],
          "mark": {"type": "text", "fontSize": 12, "align": "center", "baseline": "middle", "yOffset": -3, "fill": "#ffffff"},
          "encoding": {
            "x": {"datum": 201.5},
            "y": {"field": "v", "type": "quantitative", "title": null},
            "text": {"field": "v", "format": ".5f"}
          }
        },
        {
          "data": {"name": "tags"},
          "transform": [{"filter": "datum.name === 'mid' || datum.name === 'ma10'"}],
          "mark": {"type": "text", "fontSize": 12, "align": "center", "baseline": "middle", "yOffset": -13},
          "encoding": {
            "x": {"datum": 201.5},
            "y": {"field": "v", "type": "quantitative", "title": null},
            "text": {"field": "v", "format": ".5f"},
            "fill": {"condition": {"test": "datum.name === 'ma10'", "value": "#131722"}, "value": "#ffffff"}
          }
        },
        {
          "data": {"name": "tags"},
          "transform": [{"filter": "datum.name === 'last' || datum.name === 'lo'"}],
          "mark": {"type": "text", "fontSize": 12, "align": "center", "baseline": "middle", "yOffset": 1},
          "encoding": {
            "x": {"datum": 201.5},
            "y": {"field": "v", "type": "quantitative", "title": null},
            "text": {"field": "v", "format": ".5f"},
            "fill": {"condition": {"test": "datum.name === 'last'", "value": "#131722"}, "value": "#ffffff"}
          }
        },
        {
          "mark": {"type": "text", "text": "AUDUSD 1h - 1uptick.com", "fontSize": 12.5, "fontWeight": "bold", "align": "left", "baseline": "middle", "fill": "#131722"},
          "encoding": {"x": {"datum": -4.12}, "y": {"datum": 0.707814}}
        },
        {
          "mark": {"type": "text", "text": "BB 20 2", "fontSize": 12, "align": "left", "baseline": "middle", "fill": "#131722"},
          "encoding": {"x": {"datum": -4.12}, "y": {"datum": 0.707095}}
        },
        {
          "mark": {"type": "text", "text": "0.70381", "fontSize": 12, "align": "left", "baseline": "middle", "fill": "#2196f3"},
          "encoding": {"x": {"datum": 5.45}, "y": {"datum": 0.707095}}
        },
        {
          "mark": {"type": "text", "text": "0.70508", "fontSize": 12, "align": "left", "baseline": "middle", "fill": "#2196f3"},
          "encoding": {"x": {"datum": 14.33}, "y": {"datum": 0.707095}}
        },
        {
          "mark": {"type": "text", "text": "0.70253", "fontSize": 12, "align": "left", "baseline": "middle", "fill": "#2196f3"},
          "encoding": {"x": {"datum": 23.12}, "y": {"datum": 0.707095}}
        },
        {
          "mark": {"type": "text", "text": "MA 10 close 0 SMA 9", "fontSize": 12, "align": "left", "baseline": "middle", "fill": "#131722"},
          "encoding": {"x": {"datum": -4.12}, "y": {"datum": 0.706416}}
        },
        {
          "mark": {"type": "text", "text": "0.70331", "fontSize": 12, "align": "left", "baseline": "middle", "fill": "#f5b041"},
          "encoding": {"x": {"datum": 17.55}, "y": {"datum": 0.706416}}
        },
        {
          "mark": {"type": "text", "text": "MA 50 close 0 SMA 9", "fontSize": 12, "align": "left", "baseline": "middle", "fill": "#131722"},
          "encoding": {"x": {"datum": -4.12}, "y": {"datum": 0.705725}}
        },
        {
          "mark": {"type": "text", "text": "0.70457", "fontSize": 12, "align": "left", "baseline": "middle", "fill": "#e07b0c"},
          "encoding": {"x": {"datum": 17.55}, "y": {"datum": 0.705725}}
        }
      ]
    },
    {
      "width": 1210,
      "height": 310,
      "data": {"values": [{}]},
      "layer": [
        {
          "data": {"name": "hist"},
          "mark": {"type": "bar", "size": 4.6},
          "encoding": {
            "x": {"field": "t", "type": "quantitative", "title": null,
                  "scale": {"domain": [-5.6667, 196], "nice": false, "zero": false, "padding": 0},
                  "axis": {"orient": "bottom", "values": [0,24,48,72,96,120,144,168,192], "tickCount": 20, "grid": true, "domain": true, "domainColor": "#e0e3eb", "labelPadding": 10,
                           "labelExpr": "['29','30','31','Aug','4','5','6','7','8'][round(datum.value / 24)]"}},
            "y": {"field": "h", "type": "quantitative", "title": null,
                  "scale": {"domain": [-0.0013659, 0.0024146], "nice": false, "zero": false, "padding": 0},
                  "axis": {"orient": "right", "values": [-0.001,-0.0005,0,0.0005,0.001,0.0015,0.002], "tickCount": 20, "labelPadding": 14, "grid": true, "labelOverlap": false, "labelBound": false,
                           "labelExpr": "(datum.value < 0 ? '-' : '') + format(abs(datum.value), '.5f')"}},
            "y2": {"datum": 0},
            "fill": {"field": "s", "type": "nominal", "legend": null,
                     "scale": {"domain": ["g","lg","r","lr"], "range": ["#26a69a","#b2dfdb","#ff5252","#ffcdd2"]}}
          }
        },
        {
          "data": {"name": "macd"},
          "mark": {"type": "line", "color": "#2196f3", "strokeWidth": 1, "clip": true},
          "encoding": {"x": {"field": "t", "type": "quantitative"}, "y": {"field": "m", "type": "quantitative", "title": null}}
        },
        {
          "data": {"name": "macd"},
          "mark": {"type": "line", "color": "#ff3f71", "strokeWidth": 2, "clip": true, "interpolate": "monotone"},
          "encoding": {"x": {"field": "t", "type": "quantitative"}, "y": {"field": "s", "type": "quantitative", "title": null}}
        },
        {
          "mark": {"type": "point", "shape": "circle", "size": 900, "filled": true, "fill": "#ffffff", "stroke": "#e0e3eb", "strokeWidth": 1, "opacity": 1},
          "encoding": {"x": {"datum": -2.0}, "y": {"datum": -0.001122}}
        },
        {
          "mark": {"type": "text", "text": "TV", "fontSize": 14, "fontWeight": "bold", "align": "center", "baseline": "middle", "fill": "#131722"},
          "encoding": {"x": {"datum": -2.0}, "y": {"datum": -0.001122}}
        },
        {
          "data": {"name": "mtags"},
          "transform": [{"filter": "datum.name !== 'macd'"}],
          "mark": {"type": "tick", "orient": "horizontal", "size": 60, "thickness": 16, "opacity": 1},
          "encoding": {
            "x": {"datum": 201.5},
            "y": {"field": "v", "type": "quantitative", "title": null},
            "color": {"field": "name", "type": "nominal", "legend": null,
                      "scale": {"domain": ["hist","sig","macd"], "range": ["#fccbd0","#ff4a6e","#2196f3"]}}
          }
        },
        {
          "data": {"name": "mtags"},
          "transform": [{"filter": "datum.name === 'macd'"}],
          "mark": {"type": "tick", "orient": "horizontal", "size": 60, "thickness": 16, "opacity": 1, "yOffset": 10},
          "encoding": {
            "x": {"datum": 201.5},
            "y": {"field": "v", "type": "quantitative", "title": null},
            "color": {"field": "name", "type": "nominal", "legend": null}
          }
        },
        {
          "data": {"name": "mtags"},
          "transform": [{"filter": "datum.name !== 'macd'"}],
          "mark": {"type": "text", "fontSize": 12, "align": "center", "baseline": "middle"},
          "encoding": {
            "x": {"datum": 201.5},
            "y": {"field": "v", "type": "quantitative", "title": null},
            "text": {"field": "v", "format": ".5f"},
            "fill": {"condition": {"test": "datum.name === 'hist'", "value": "#131722"}, "value": "#ffffff"}
          }
        },
        {
          "data": {"name": "mtags"},
          "transform": [{"filter": "datum.name === 'macd'"}],
          "mark": {"type": "text", "fontSize": 12, "align": "center", "baseline": "middle", "yOffset": 10, "fill": "#ffffff"},
          "encoding": {
            "x": {"datum": 201.5},
            "y": {"field": "v", "type": "quantitative", "title": null},
            "text": {"field": "v", "format": ".5f"}
          }
        },
        {
          "mark": {"type": "text", "text": "⚙", "fontSize": 17, "align": "center", "baseline": "middle", "fill": "#131722", "font": "DejaVu Sans"},
          "encoding": {"x": {"datum": 202.17}, "y": {"datum": -0.001561}}
        },
        {
          "mark": {"type": "text", "text": "MACD 12 26 close 9", "fontSize": 12, "align": "left", "baseline": "middle", "fill": "#131722"},
          "encoding": {"x": {"datum": -4.12}, "y": {"datum": 0.0021951}}
        },
        {
          "mark": {"type": "text", "text": "-0.00009", "fontSize": 12, "align": "left", "baseline": "middle", "fill": "#f8bac4"},
          "encoding": {"x": {"datum": 17.12}, "y": {"datum": 0.0021951}}
        },
        {
          "mark": {"type": "text", "text": "-0.00046", "fontSize": 12, "align": "left", "baseline": "middle", "fill": "#2196f3"},
          "encoding": {"x": {"datum": 27.12}, "y": {"datum": 0.0021951}}
        },
        {
          "mark": {"type": "text", "text": "-0.00037", "fontSize": 12, "align": "left", "baseline": "middle", "fill": "#ff4a6e"},
          "encoding": {"x": {"datum": 37.12}, "y": {"datum": 0.0021951}}
        }
      ]
    }
  ]
}
